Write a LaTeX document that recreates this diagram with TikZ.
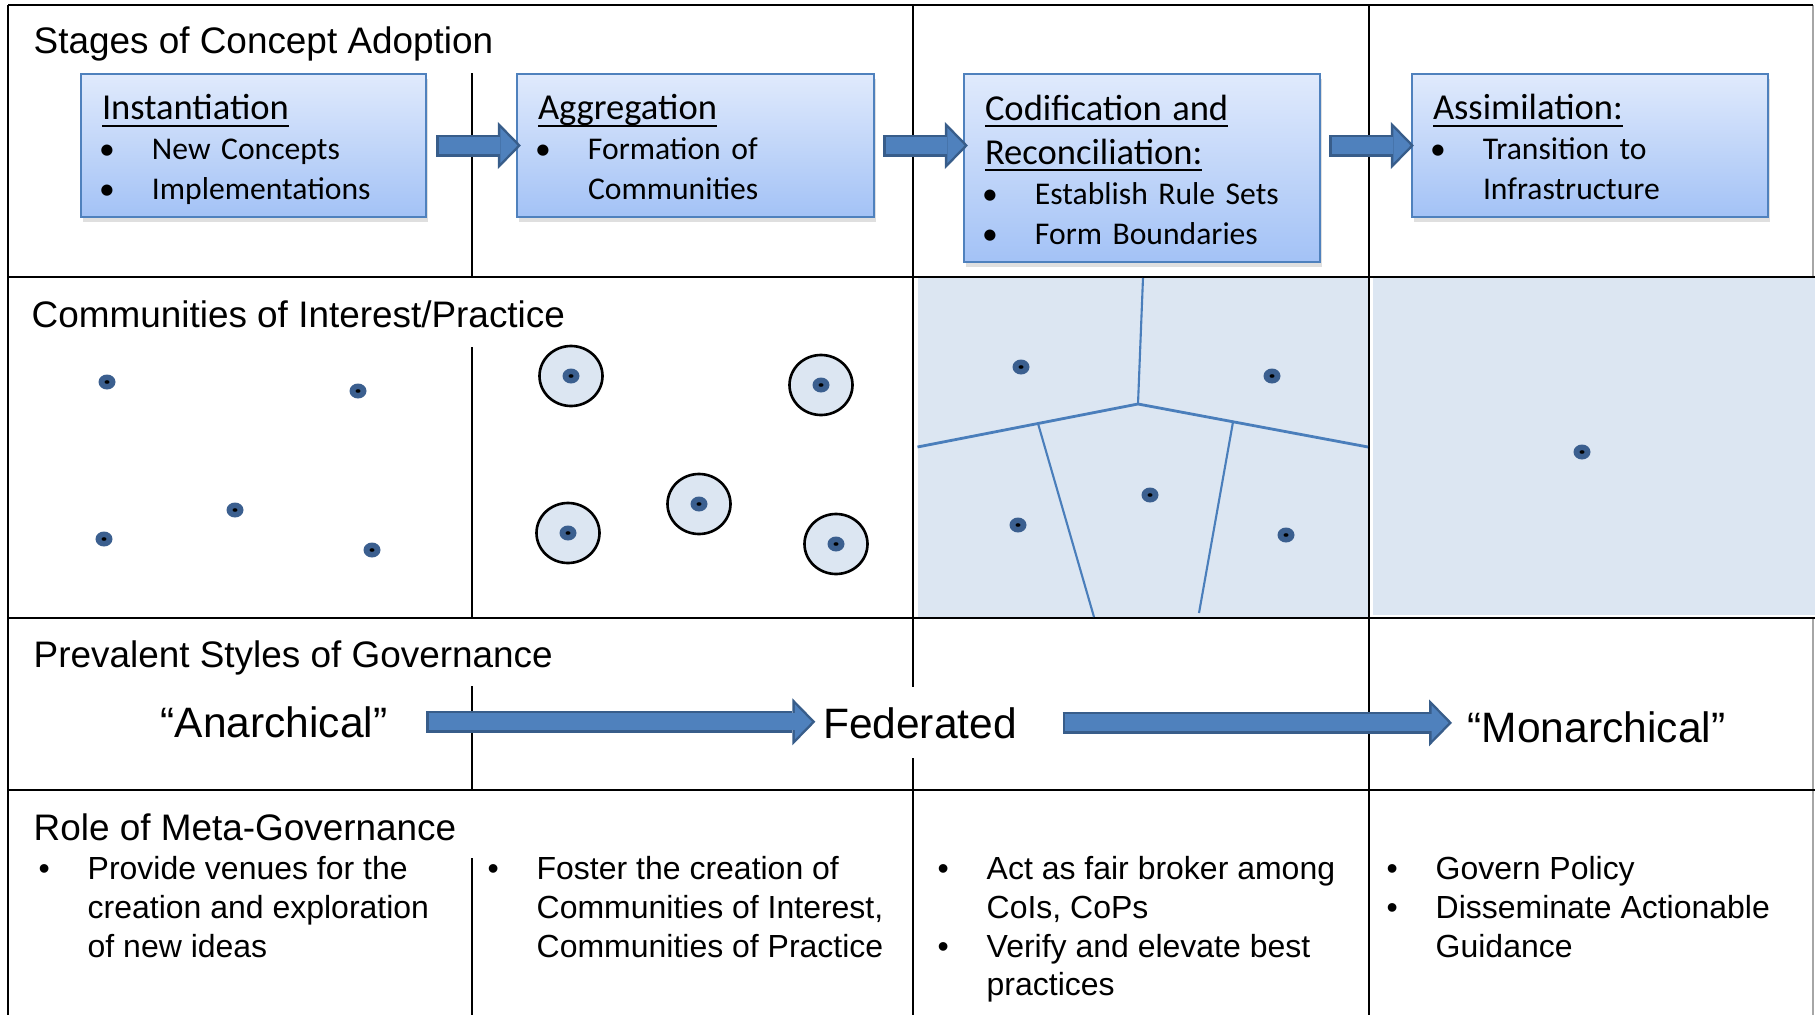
\documentclass[tikz,border=0pt]{standalone}
\usepackage{fontspec}
\setmainfont{Liberation Sans}
\newfontfamily\boxfont{Carlito}
\usetikzlibrary{arrows.meta, shadows}

\definecolor{boxedge}{RGB}{79,129,189}
\definecolor{boxtop}{RGB}{224,234,252}
\definecolor{boxbot}{RGB}{163,194,246}
\definecolor{arrowfill}{RGB}{79,129,189}
\definecolor{arrowedge}{RGB}{56,93,138}
\definecolor{cellfill}{RGB}{220,230,242}
\definecolor{dotblue}{RGB}{59,95,143}
\definecolor{vorblue}{RGB}{74,126,187}

\newcommand{\uhead}[1]{\setbox0\hbox{#1}\rlap{\rule[-2pt]{\wd0}{0.6pt}}\box0}
\newcommand{\stagehead}[1]{{\fontsize{10.4}{12.5}\selectfont\uhead{#1}}}
\newcommand{\bdot}{\hspace*{-0.03cm}\textbullet}

\tikzset{
  stagebox/.style={draw=boxedge, line width=0.6pt, top color=boxtop, bottom color=boxbot,
    drop shadow={opacity=0.25, shadow xshift=0.02cm, shadow yshift=-0.05cm},
    inner xsep=0.21cm, inner ysep=0pt, font=\boxfont\fontsize{9}{11.4}\selectfont},
  rowtitle/.style={anchor=base west, inner sep=0pt, font=\fontsize{10.5}{12.6}\selectfont},
  govword/.style={anchor=base, inner sep=0pt, font=\fontsize{12.1}{14.5}\selectfont},
  metatext/.style={anchor=north west, inner sep=0pt, font=\fontsize{9.1}{11}\selectfont},
  arrowout/.style={draw=arrowedge, line width=0.22cm, -{Triangle[length=0.23cm, width=0.47cm, line width=0pt]}},
  arrowin/.style={draw=arrowfill, line width=0.17cm, shorten <=0.025cm, shorten >=0.035cm,
    -{Triangle[length=0.17cm, width=0.35cm, line width=0pt]}},
  hline/.style={line width=0.75pt},
  vline/.style={line width=0.45pt},
  vorline/.style={draw=vorblue, line width=0.6pt},
}

\begin{document}
\begin{tikzpicture}
\useasboundingbox (0,0) rectangle (18.15,10.15);
%\draw[step=0.5cm,gray,very thin] (0,0) grid (18.15,10.15); %background grid
\fill[cellfill] (9.175,7.37) rectangle (13.686,3.98);
\fill[cellfill] (13.73,7.37) rectangle (18.15,4.00);
% table lines
\draw[gray!70, line width=0.3pt] (18.13,10.10) -- (18.13,7.38);
\draw[gray!70, line width=0.3pt] (18.13,3.97) -- (18.13,0);
\draw[hline] (0.08,10.10) -- (18.13,10.10);
\draw[line width=0.6pt] (0.08,10.10) -- (0.08,0);
\draw[hline] (0.08,7.38) -- (18.15,7.38);
\draw[hline] (0.08,3.97) -- (18.15,3.97);
\draw[hline] (0.08,2.25) -- (18.15,2.25);
\draw[vline] (4.72,9.42) -- (4.72,7.38);
\draw[vline] (4.72,6.68) -- (4.72,3.97);
\draw[vline] (4.72,3.29) -- (4.72,2.25);
\draw[vline] (4.72,1.57) -- (4.72,0);
\draw[vline] (9.13,10.10) -- (9.13,3.28);
\draw[vline] (9.13,2.57) -- (9.13,0);
\draw[vline] (13.69,10.10) -- (13.69,0);

\node[rowtitle] (stagetitle) at (0.33,9.61) {Stages of Concept Adoption};
\node[rowtitle] (coititle) at (0.31,6.88) {Communities of Interest/Practice};
\node[rowtitle] (govtitle) at (0.33,3.48) {Prevalent Styles of Governance};
\node[rowtitle] (metatitle) at (0.33,1.75) {Role of Meta-Governance};

% stages
\node[stagebox, text width=3.03cm, minimum height=1.43cm] (inst) at (2.535,8.695) {%
\begin{tabular}{@{}p{0.5cm}@{}l@{}}
\multicolumn{2}{@{}l@{}}{\stagehead{Instantiation}}\\
\bdot & New Concepts\\
\bdot & Implementations\\[-3.6pt]
\end{tabular}};
\node[stagebox, text width=3.15cm, minimum height=1.43cm] (aggr) at (6.955,8.695) {%
\begin{tabular}{@{}p{0.5cm}@{}l@{}}
\multicolumn{2}{@{}l@{}}{\stagehead{Aggregation}}\\
\bdot & Formation of\\
 & Communities\\[-3.6pt]
\end{tabular}};
\node[stagebox, text width=3.14cm, minimum height=1.88cm] (codi) at (11.42,8.47) {%
\begin{tabular}{@{}p{0.5cm}@{}l@{}}
\multicolumn{2}{@{}l@{}}{\stagehead{Codification and}}\\[1.2pt]
\multicolumn{2}{@{}l@{}}{\stagehead{Reconciliation:}}\\
\bdot & Establish Rule Sets\\
\bdot & Form Boundaries\\[-3.6pt]
\end{tabular}};
\node[stagebox, text width=3.14cm, minimum height=1.43cm] (assi) at (15.90,8.695) {%
\begin{tabular}{@{}p{0.5cm}@{}l@{}}
\multicolumn{2}{@{}l@{}}{\stagehead{Assimilation:}}\\
\bdot & Transition to\\
 & Infrastructure\\[-3.6pt]
\end{tabular}};

\path (inst.east) ++(0.09,0) coordinate (sa1);
\path (inst.east -| aggr.west) ++(0.05,0) coordinate (sa2);
\path (aggr.east) ++(0.08,0) coordinate (sa3);
\path (aggr.east -| codi.west) ++(0.05,0) coordinate (sa4);
\path (codi.east |- assi.west) ++(0.08,0) coordinate (sa5);
\path (assi.west) ++(0.03,0) coordinate (sa6);
\foreach \s/\e in {sa1/sa2, sa3/sa4, sa5/sa6} {
  \draw[arrowout] (\s) -- (\e);
  \draw[arrowin] (\s) -- (\e);
}

% communities
\foreach \x/\y in {5.71/6.39, 8.21/6.30, 5.68/4.82, 6.99/5.11, 8.36/4.71}
  \draw[line width=0.75pt, fill=cellfill] (\x,\y) ellipse (0.315 and 0.30);
\draw[vorline, line width=0.8pt] (9.175,5.68) -- (11.38,6.11) -- (13.68,5.68);
\draw[vorline] (11.38,6.11) -- (11.43,7.37);
\draw[vorline] (10.38,5.915) -- (10.94,3.98);
\draw[vorline] (12.33,5.93) -- (11.99,4.02);
\foreach \x/\y in {1.07/6.33, 3.58/6.24, 2.35/5.05, 1.04/4.76, 3.72/4.65,
                   5.71/6.39, 8.21/6.30, 5.68/4.82, 6.99/5.11, 8.36/4.71,
                   10.21/6.48, 12.72/6.39, 11.50/5.20, 10.18/4.90, 12.86/4.80,
                   15.82/5.63} {
  \fill[dotblue] (\x,\y) ellipse (0.085 and 0.075);
  \fill[black] (\x,\y) ellipse (0.025 and 0.018);
}

% governance
\node[govword] (anar) at (2.74,2.78) {“Anarchical”};
\node[govword] (fed) at (9.20,2.77) {Federated};
\node[govword] (mon) at (15.965,2.73) {“Monarchical”};
\path (anar.east) ++(0.38,0) coordinate (ga1);
\path (anar.east -| fed.west) ++(-0.07,0) coordinate (ga2);
\path (fed.east) ++(0.45,0) coordinate (ga3);
\path (fed.east -| mon.west) ++(-0.15,0) coordinate (ga4);
\foreach \s/\e in {ga1/ga2, ga3/ga4} {
  \draw[arrowout] (\s) -- (\e);
  \draw[arrowin] (\s) -- (\e);
}

% meta-governance
\node[metatext] (meta1) at (0.38,1.63) {\begin{tabular}{@{}p{0.49cm}@{}l@{}}
\textbullet & Provide venues for the\\
 & creation and exploration\\
 & of new ideas
\end{tabular}};
\node[metatext] (meta2) at (4.87,1.63) {\begin{tabular}{@{}p{0.49cm}@{}l@{}}
\textbullet & Foster the creation of\\
 & Communities of Interest,\\
 & Communities of Practice
\end{tabular}};
\node[metatext] (meta3) at (9.37,1.63) {\begin{tabular}{@{}p{0.49cm}@{}l@{}}
\textbullet & Act as fair broker among\\
 & CoIs, CoPs\\
\textbullet & Verify and elevate best\\
 & practices
\end{tabular}};
\node[metatext] (meta4) at (13.86,1.63) {\begin{tabular}{@{}p{0.49cm}@{}l@{}}
\textbullet & Govern Policy\\
\textbullet & Disseminate Actionable\\
 & Guidance
\end{tabular}};
\end{tikzpicture}
\end{document}
